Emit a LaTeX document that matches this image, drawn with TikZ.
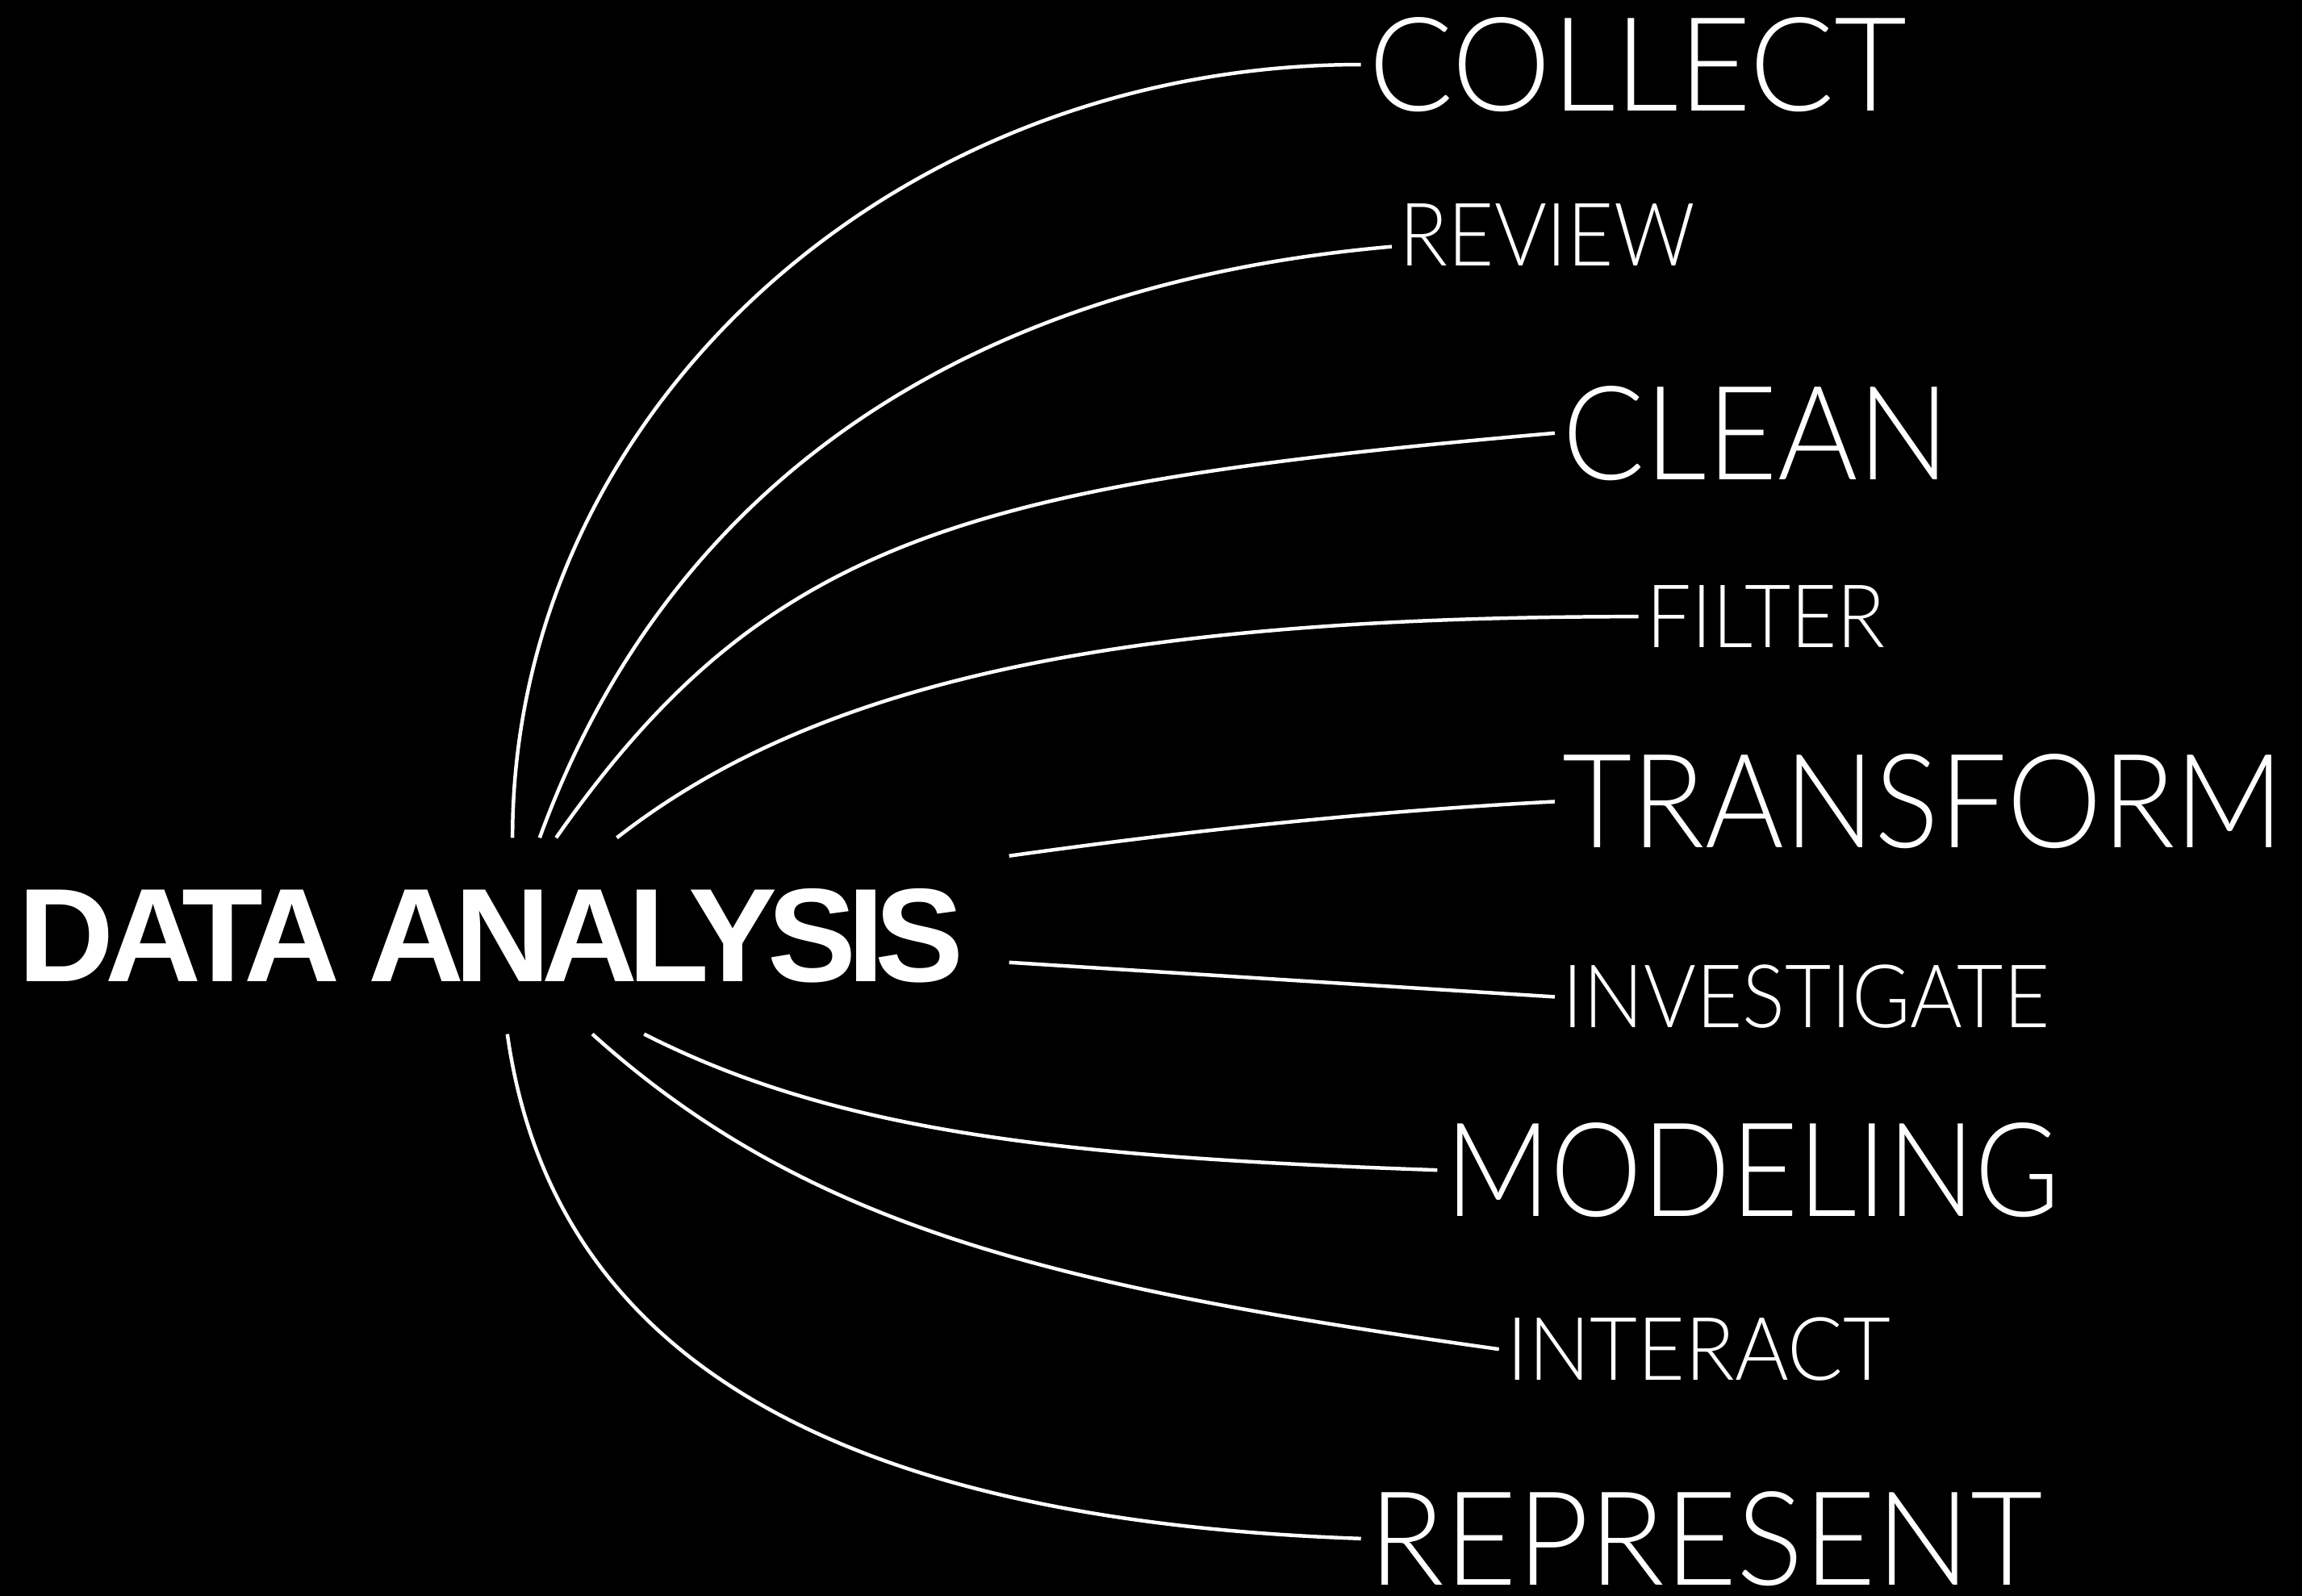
\documentclass[tikz,border=0pt]{standalone}
\usepackage{fontspec}
\setmainfont{Lato Light}
\newfontfamily\labelfont{Lato Light}
\newfontfamily\headfont{Liberation Sans Bold}[LetterSpace=-7]
\usepackage{tikz}

\begin{document}
\begin{tikzpicture}[
    title/.style={text=white, inner sep=0, minimum width=13.75cm, minimum height=2.66cm, font=\headfont\fontsize{51.6}{60}\selectfont},
    biglabel/.style={anchor=west, inner xsep=0.1cm, inner ysep=0, text=white, font=\labelfont\addfontfeatures{FakeStretch=#1}\fontsize{50.7}{60}\selectfont},
    biglabel/.default=0.96,
    smalllabel/.style={anchor=west, inner xsep=0.1cm, inner ysep=0, text=white, font=\labelfont\addfontfeatures{FakeStretch=#1}\fontsize{34}{40}\selectfont},
    smalllabel/.default=0.91,
    link/.style={white, line width=1.4pt}]
            % black sheet
            \useasboundingbox (0, 0) rectangle (31.36, 21.74);
            \fill[black] (0, 0) rectangle (31.36, 21.74);
            % title in the middle of the left side
            \node[title] (analysis) at (6.865, 8.99) {DATA ANALYSIS\kern0.35cm};
            % steps on the right
            \node[biglabel] (collect) at (18.54, 20.86) {COLLECT};
            \node[smalllabel] (review) at (18.96, 18.54) {REVIEW};
            \node[biglabel=0.934] (clean) at (21.18, 15.84) {CLEAN};
            \node[smalllabel] (filter) at (22.32, 13.34) {FILTER};
            \node[biglabel=0.92] (transform) at (21.18, 10.82) {TRANSFORM};
            \node[smalllabel] (investigate) at (21.18, 8.16) {INVESTIGATE};
            \node[biglabel=0.888] (modeling) at (19.58, 5.80) {MODELING};
            \node[smalllabel=0.936] (interact) at (20.42, 3.36) {INTERACT};
            \node[biglabel=0.954] (represent) at (18.54, 0.78) {REPRESENT};
            % upper links
            \draw[link] (analysis.85) .. controls +(90:5.8) and +(180:6.38) .. (collect.west);
            \draw[link] (analysis.70) .. controls +(70:5) and +(185:6) .. ([yshift=-0.16cm]review.west);
            \draw[link] (analysis.62) .. controls +(55:5) and +(185:8) .. (clean.west);
            \draw[link] (analysis.41) .. controls +(38:3.5) and +(180:7) .. (filter.west);
            \draw[link] (analysis.9) .. controls +(8:2.5) and +(183:2.5) .. (transform.west);
            % straight link
            \draw[link] (analysis.-3) -- (investigate.west);
            % lower links
            \draw[link] (analysis.-35) .. controls +(-27:3) and +(178:5) .. (modeling.west);
            \draw[link] (analysis.-48) .. controls +(-42:4) and +(172:6) .. (interact.west);
            \draw[link] (analysis.-88) .. controls +(-82:4.3) and +(178:7.4) .. (represent.west);
\end{tikzpicture}
\end{document}
